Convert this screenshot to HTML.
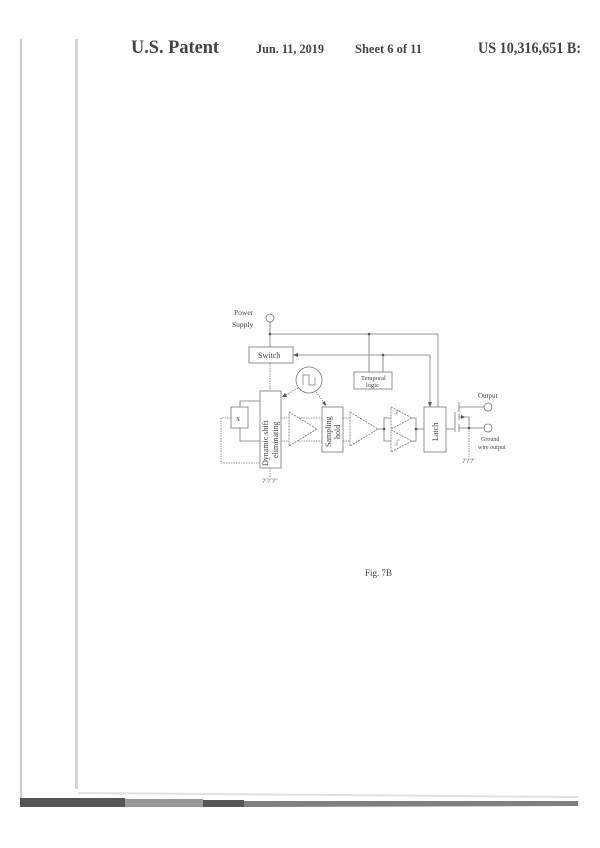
<!DOCTYPE html>
<html><head><meta charset="utf-8"><style>
html,body{margin:0;padding:0;background:#fff;}
svg{display:block;}
text{font-family:"Liberation Serif",serif;fill:#444;}
</style></head><body>
<svg width="600" height="848" viewBox="0 0 600 848" xmlns="http://www.w3.org/2000/svg">
<rect width="600" height="848" fill="#fff"/>
<rect x="20" y="39" width="2" height="762" fill="#ccc"/>
<rect x="75" y="39" width="3" height="750" fill="#d4d4d4"/>
<line x1="78" y1="793" x2="578" y2="797" stroke="#e0e0e0" stroke-width="2"/>
<rect x="20" y="798" width="105" height="9" fill="#555"/>
<rect x="125" y="799" width="78" height="8" fill="#999"/>
<rect x="203" y="800" width="41" height="7" fill="#555"/>
<polygon points="244,801 578,801 578,806 244,807" fill="#808080"/>
<text x="131" y="53" font-size="19" font-weight="bold" fill="#555" textLength="88" lengthAdjust="spacingAndGlyphs">U.S. Patent</text>
<text x="256" y="53" font-size="12.5" font-weight="bold" fill="#555" textLength="68" lengthAdjust="spacingAndGlyphs">Jun. 11, 2019</text>
<text x="355" y="53" font-size="12.5" font-weight="bold" fill="#555" textLength="67" lengthAdjust="spacingAndGlyphs">Sheet 6 of 11</text>
<text x="478" y="53" font-size="15.5" font-weight="bold" fill="#555" textLength="103" lengthAdjust="spacingAndGlyphs">US 10,316,651 B:</text>
<g stroke="#777" stroke-width="0.8" fill="none">
<circle cx="270" cy="318" r="4"/>
<line x1="270" y1="322" x2="270" y2="347"/>
<line x1="270" y1="334" x2="438" y2="334"/>
<line x1="438" y1="334" x2="438" y2="407"/>
<rect x="249" y="347" width="44" height="16" fill="#fff"/>
<line x1="293" y1="355" x2="430" y2="355"/>
<line x1="430" y1="355" x2="430" y2="407"/>
<line x1="369" y1="334" x2="369" y2="372"/>
<line x1="383" y1="355" x2="383" y2="372"/>
<rect x="354" y="372" width="38" height="17"/>
<line x1="270" y1="363" x2="270" y2="391" stroke-dasharray="1.5,1"/>
<rect x="260" y="391" width="21" height="77"/>
<line x1="270" y1="468" x2="270" y2="478" stroke-dasharray="1.5,1"/>
<circle cx="309" cy="380" r="13"/>
<path d="M303,385 V375 H309 V385 H315 V377" stroke-width="0.7"/>
<line x1="298" y1="388" x2="282" y2="397" stroke-dasharray="1.5,1"/>
<line x1="316" y1="392" x2="326" y2="405" stroke-dasharray="1.5,1"/>
<rect x="231" y="407" width="17" height="21"/>
<path d="M240,407 V401 H260 M240,428 V441 H260"/>
<path d="M231,418 H221 V463 H260" stroke-dasharray="1.5,1"/>
<path d="M281,418 H322 M281,441 H322" stroke-dasharray="1.5,1"/>
<polygon points="289,412 317,429 289,446" fill="#fff" stroke-dasharray="2,1"/>
<rect x="322" y="407" width="21" height="45" fill="#fff"/>
<path d="M343,418 H350 M343,441 H350" stroke-dasharray="1.5,1"/>
<polygon points="350,412 378,429 350,446" stroke-dasharray="2,1"/>
<path d="M378,429 H384 V418 H391 M384,429 V441 H391"/>
<polygon points="391,407 412,418 391,429" stroke-dasharray="2,1"/>
<polygon points="391,430 412,441 391,452" stroke-dasharray="2,1"/>
<path d="M394,414 h3 v-3 h3 M394,445 h3 v-5 h3" stroke-width="0.6"/>
<path d="M412,418 H416 V441 H412 M416,429 H424"/>
<rect x="424" y="407" width="22" height="45"/>
<path d="M446,429 H454"/>
<line x1="459" y1="402" x2="459" y2="412"/>
<line x1="459" y1="407" x2="484" y2="407"/>
<line x1="455" y1="412" x2="455" y2="432"/>
<line x1="459" y1="414" x2="459" y2="420"/>
<line x1="459" y1="424" x2="459" y2="432"/>
<path d="M459,417 H469 V428"/>
<line x1="459" y1="428" x2="484" y2="428"/>
<circle cx="488" cy="407" r="4"/>
<circle cx="488" cy="428" r="4"/>
<line x1="469" y1="428" x2="469" y2="458" stroke-dasharray="1.5,1"/>
<path d="M463,459 H475 M465,459 l-2,4 M469,459 l-2,4 M473,459 l-2,4" stroke-width="0.6"/>
<path d="M262,479 H278 M265,479 l-2,4 M270,479 l-2,4 M275,479 l-2,4" stroke-width="0.6"/>
</g>
<g fill="#555">
<circle cx="270" cy="334" r="1.3"/><circle cx="369" cy="334" r="1.3"/><circle cx="383" cy="355" r="1.3"/>
<circle cx="384" cy="429" r="1.3"/><circle cx="416" cy="429" r="1.3"/><circle cx="469" cy="428" r="1.3"/>
<polygon points="293,355 298,353 298,357"/>
<polygon points="430,407 428,402 432,402"/>
<polygon points="282,397 285,393 287,397"/>
<polygon points="326,406 322,403 325,401"/>
<polygon points="465,417 461,415 461,419"/>
</g>
<g font-size="7.5" fill="#555">
<text x="234" y="315">Power</text>
<text x="232" y="327">Supply</text>
<text x="258" y="358" font-size="8">Switch</text>
<text x="361" y="380" font-size="6.5">Temporal</text>
<text x="366" y="387" font-size="6.5">logic</text>
<text x="236" y="421" font-size="8">x</text>
<text x="478" y="398" font-size="7">Output</text>
<text x="481" y="441" font-size="6">Ground</text>
<text x="478" y="449" font-size="6">wire output</text>
<text transform="translate(268,466) rotate(-90)" font-size="8">Dynamic shift</text>
<text transform="translate(278,458) rotate(-90)" font-size="8">eliminating</text>
<text transform="translate(331,447) rotate(-90)" font-size="8">Sampling</text>
<text transform="translate(340,439) rotate(-90)" font-size="8">hold</text>
<text transform="translate(438,441) rotate(-90)" font-size="8">Latch</text>
</g>
<text x="365" y="576" font-size="9" fill="#444">Fig. 7B</text>
</svg>
</body></html>
